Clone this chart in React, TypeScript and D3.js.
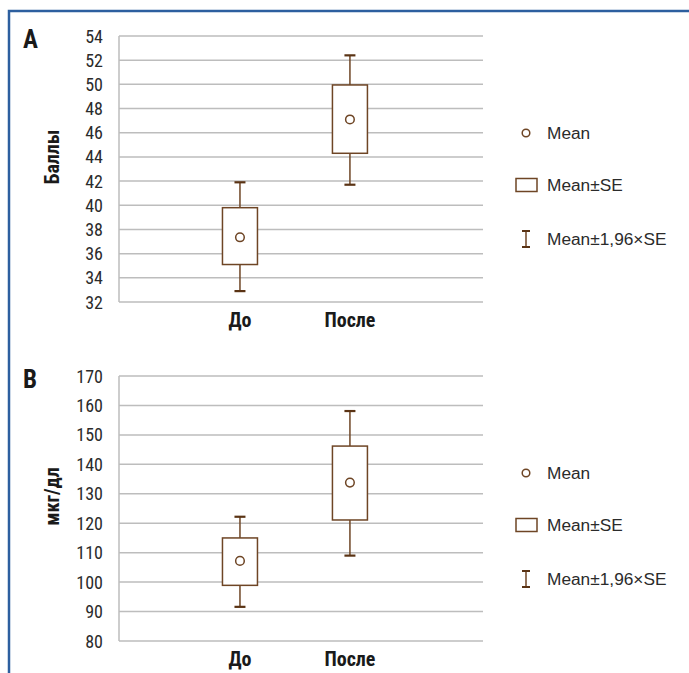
import React from "react";
import * as d3 from "d3";

const categories = ["До", "После"];

const meanA = [37.35, 47.1];
const seLowA = [35.1, 44.3];
const seHighA = [39.8, 49.95];
const ciLowA = [32.9, 41.7];
const ciHighA = [41.9, 52.4];
const ticksA = [32, 34, 36, 38, 40, 42, 44, 46, 48, 50, 52, 54];

const meanB = [107.2, 133.8];
const seLowB = [98.9, 121.1];
const seHighB = [115.0, 146.2];
const ciLowB = [91.6, 109.0];
const ciHighB = [122.2, 158.1];
const ticksB = [80, 90, 100, 110, 120, 130, 140, 150, 160, 170];

const legendLabels = ["Mean", "Mean±SE", "Mean±1,96×SE"];

const NARROW = "'Liberation Sans Narrow', 'Arial Narrow', 'Roboto Condensed', sans-serif";
const SANS = "'Liberation Sans', Arial, sans-serif";
const BROWN = "#6e4525";
const DARK = "#5a3314";
const GRID = "#bdbdbd";
const TEXT = "#2b2b2b";

type PanelProps = {
  top: number;
  bottom: number;
  letter: string;
  title: string;
  ticks: number[];
  mean: number[];
  seLow: number[];
  seHigh: number[];
  ciLow: number[];
  ciHigh: number[];
};

function Panel(p: PanelProps) {
  const left = 119;
  const right = 483;
  const y = d3
    .scaleLinear()
    .domain([p.ticks[0], p.ticks[p.ticks.length - 1]])
    .range([p.bottom, p.top]);
  const x = d3.scaleLinear().domain([-1.1, 2.21]).range([left, right]);
  const boxW = 35;
  const capW = 11;
  const mid = (p.top + p.bottom) / 2 - 12;
  const legY = [p.top + 97, p.top + 149, p.top + 203];
  return (
    <g>
      <text x={23} y={p.top + 12} fontFamily={NARROW} fontWeight="bold" fontSize={25} fill="#1a1a1a">
        {p.letter}
      </text>
      {p.ticks.map((t) => (
        <g key={t}>
          <line x1={left} x2={right} y1={y(t)} y2={y(t)} stroke={GRID} strokeWidth={1.5} />
          <text
            x={103}
            y={y(t)}
            textAnchor="end"
            dominantBaseline="central"
            fontFamily={NARROW}
            fontSize={18}
            fill={TEXT}
          >
            {t}
          </text>
        </g>
      ))}
      <line x1={left} x2={left} y1={p.top} y2={p.bottom} stroke={GRID} strokeWidth={1.5} />
      <text
        transform={`translate(59,${mid}) rotate(-90)`}
        textAnchor="middle"
        fontFamily={NARROW}
        fontWeight="bold"
        fontSize={20}
        fill="#1a1a1a"
      >
        {p.title}
      </text>
      {categories.map((c, i) => {
        const cx = x(i);
        return (
          <g key={c}>
            <line x1={cx} x2={cx} y1={y(p.ciHigh[i])} y2={y(p.seHigh[i])} stroke={BROWN} strokeWidth={1.5} />
            <line x1={cx} x2={cx} y1={y(p.seLow[i])} y2={y(p.ciLow[i])} stroke={BROWN} strokeWidth={1.5} />
            <line x1={cx - capW / 2} x2={cx + capW / 2} y1={y(p.ciHigh[i])} y2={y(p.ciHigh[i])} stroke={DARK} strokeWidth={2.2} />
            <line x1={cx - capW / 2} x2={cx + capW / 2} y1={y(p.ciLow[i])} y2={y(p.ciLow[i])} stroke={DARK} strokeWidth={2.2} />
            <rect
              x={cx - boxW / 2}
              y={y(p.seHigh[i])}
              width={boxW}
              height={y(p.seLow[i]) - y(p.seHigh[i])}
              fill="#fff"
              stroke={BROWN}
              strokeWidth={1.5}
            />
            <circle cx={cx} cy={y(p.mean[i])} r={4.3} fill="#fff" stroke={BROWN} strokeWidth={1.5} />
            <text
              x={cx}
              y={p.bottom + 25}
              textAnchor="middle"
              fontFamily={NARROW}
              fontWeight="bold"
              fontSize={20}
              fill="#1a1a1a"
            >
              {c}
            </text>
          </g>
        );
      })}
      <circle cx={526} cy={legY[0]} r={3.8} fill="#fff" stroke={BROWN} strokeWidth={1.5} />
      <rect x={516} y={legY[1] - 6.5} width={21} height={13} fill="#fff" stroke={BROWN} strokeWidth={1.5} />
      <line x1={526} x2={526} y1={legY[2] - 8} y2={legY[2] + 8} stroke={BROWN} strokeWidth={1.5} />
      <line x1={522} x2={530} y1={legY[2] - 8} y2={legY[2] - 8} stroke={DARK} strokeWidth={2} />
      <line x1={522} x2={530} y1={legY[2] + 8} y2={legY[2] + 8} stroke={DARK} strokeWidth={2} />
      {legendLabels.map((l, i) => (
        <text
          key={l}
          x={547}
          y={legY[i]}
          dominantBaseline="central"
          fontFamily={SANS}
          fontSize={17.3}
          fill={TEXT}
        >
          {l}
        </text>
      ))}
    </g>
  );
}

export default function App() {
  return (
    <svg
      width={689}
      height={673}
      style={{ position: "absolute", left: 0, top: 0, background: "#fff" }}
    >
      <rect x={0} y={0} width={689} height={673} fill="#fff" />
      <rect x={9} y={11} width={720} height={720} fill="none" stroke="#2d5f9f" strokeWidth={2.5} />
      <Panel
        top={36}
        bottom={302}
        letter="A"
        title="Баллы"
        ticks={ticksA}
        mean={meanA}
        seLow={seLowA}
        seHigh={seHighA}
        ciLow={ciLowA}
        ciHigh={ciHighA}
      />
      <Panel
        top={376}
        bottom={641}
        letter="B"
        title="мкг/дл"
        ticks={ticksB}
        mean={meanB}
        seLow={seLowB}
        seHigh={seHighB}
        ciLow={ciLowB}
        ciHigh={ciHighB}
      />
    </svg>
  );
}
